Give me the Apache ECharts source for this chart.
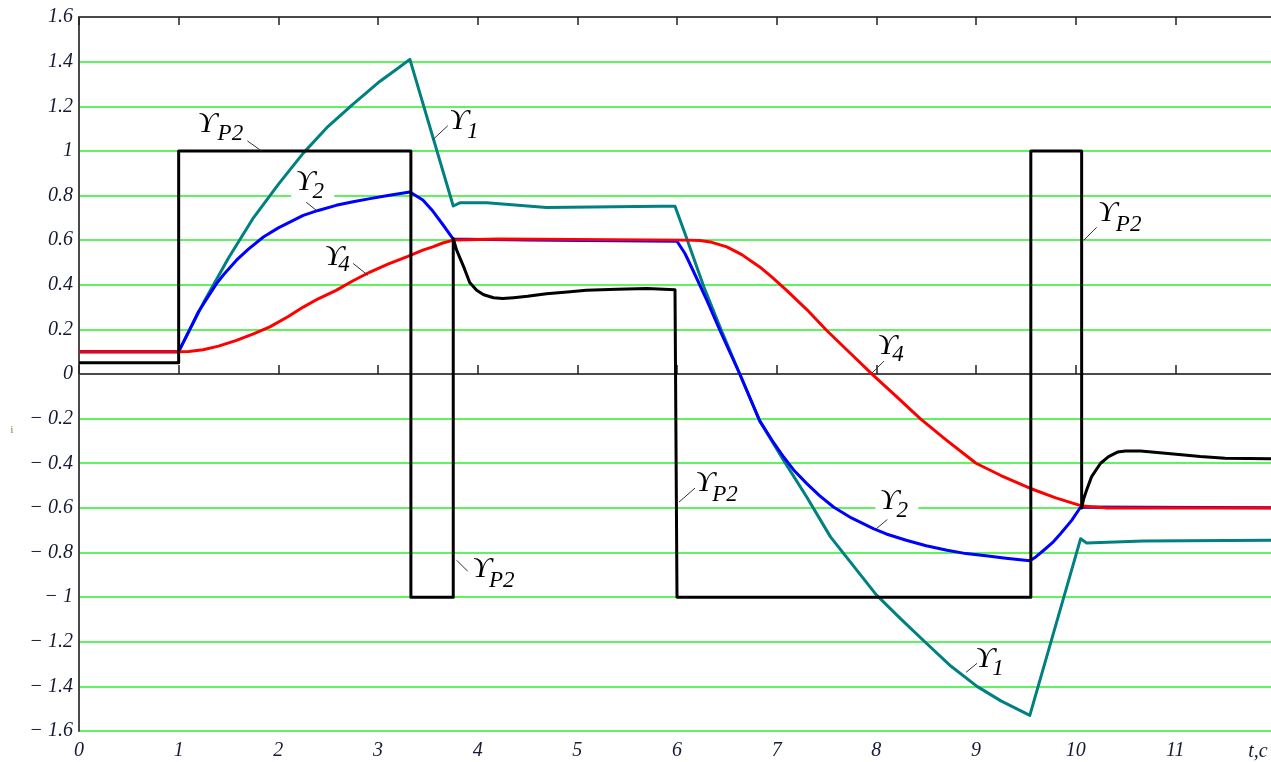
<!DOCTYPE html>
<html>
<head>
<meta charset="utf-8">
<script src="https://cdn.jsdelivr.net/npm/echarts@6/dist/echarts.min.js"></script>
<style>
  html, body { margin: 0; padding: 0; background: #fff; }
  #chart { width: 1271px; height: 762px; }
</style>
</head>
<body>
<div id="chart"></div>
<script>
// t (s), value pairs
var gammaP2 = [
  [0, 0.05], [1, 0.05], [1, 1], [3.33, 1], [3.33, -1], [3.755, -1], [3.755, 0.607],
  [3.79, 0.554], [3.86, 0.48], [3.92, 0.41], [3.99, 0.375], [4.06, 0.355], [4.16, 0.342],
  [4.25, 0.338], [4.36, 0.342], [4.5, 0.348], [4.69, 0.36], [4.9, 0.368], [5.09, 0.375],
  [5.4, 0.38], [5.7, 0.383], [5.98, 0.378], [6.0, 0.378], [6.0, -1],
  [9.55, -1], [9.55, 1], [10.06, 1], [10.06, -0.6], [10.08, -0.56], [10.11, -0.52],
  [10.16, -0.46], [10.25, -0.4], [10.33, -0.37], [10.42, -0.35], [10.5, -0.345],
  [10.65, -0.345], [10.9, -0.355], [11.25, -0.37], [11.5, -0.378], [12, -0.38]
];
var gamma1 = [
  [0, 0.1], [1, 0.1], [1.25, 0.32], [1.5, 0.52], [1.75, 0.7], [2.0, 0.85], [2.25, 0.99],
  [2.5, 1.11], [2.75, 1.21], [3.0, 1.305], [3.2, 1.37], [3.32, 1.41], [3.755, 0.753],
  [3.82, 0.767], [4.09, 0.767], [4.69, 0.746], [5.83, 0.752], [5.98, 0.752], [6.08, 0.63],
  [6.27, 0.39], [6.45, 0.19], [6.63, 0.0], [6.83, -0.21], [7.07, -0.387], [7.3, -0.55],
  [7.54, -0.73], [7.77, -0.86], [8.0, -0.99], [8.25, -1.1], [8.51, -1.21], [8.75, -1.31],
  [9.01, -1.4], [9.25, -1.465], [9.54, -1.53], [10.05, -0.738], [10.11, -0.757],
  [10.68, -0.749], [12, -0.745]
];
var gamma2 = [
  [0, 0.1], [1, 0.1], [1.1, 0.19], [1.2, 0.28], [1.3, 0.35], [1.38, 0.405], [1.45, 0.445],
  [1.58, 0.51], [1.7, 0.56], [1.85, 0.614], [2.0, 0.655], [2.25, 0.711], [2.4, 0.733],
  [2.58, 0.756], [2.75, 0.772], [2.92, 0.786], [3.1, 0.8], [3.32, 0.816], [3.45, 0.78],
  [3.55, 0.73], [3.65, 0.67], [3.755, 0.605], [4.5, 0.6], [6.0, 0.595], [6.08, 0.54],
  [6.16, 0.465], [6.3, 0.33], [6.43, 0.196], [6.63, 0.0], [6.83, -0.21], [6.95, -0.295],
  [7.07, -0.372], [7.18, -0.435], [7.3, -0.49], [7.43, -0.545], [7.57, -0.596],
  [7.75, -0.645], [7.97, -0.693], [8.1, -0.717], [8.3, -0.745], [8.5, -0.77],
  [8.71, -0.79], [8.9, -0.805], [9.1, -0.815], [9.3, -0.826], [9.54, -0.837],
  [9.6, -0.82], [9.68, -0.79], [9.77, -0.755], [9.85, -0.715], [9.96, -0.656],
  [10.05, -0.596], [12, -0.6]
];
var gamma4 = [
  [0, 0.1], [1, 0.1], [1.1, 0.101], [1.245, 0.109], [1.4, 0.125], [1.58, 0.151],
  [1.75, 0.18], [1.915, 0.211], [2.1, 0.258], [2.25, 0.3], [2.4, 0.337], [2.58, 0.375],
  [2.75, 0.418], [2.92, 0.457], [3.1, 0.492], [3.3, 0.527], [3.45, 0.555], [3.55, 0.57],
  [3.65, 0.587], [3.755, 0.6], [3.9, 0.602], [4.2, 0.605], [6.1, 0.6], [6.23, 0.598],
  [6.35, 0.59], [6.5, 0.57], [6.65, 0.535], [6.83, 0.48], [6.95, 0.435], [7.1, 0.375],
  [7.3, 0.29], [7.5, 0.196], [7.7, 0.11], [7.97, -0.006], [8.2, -0.1], [8.44, -0.2],
  [8.7, -0.295], [9.0, -0.4], [9.25, -0.455], [9.54, -0.512], [9.8, -0.555],
  [10.05, -0.59], [10.15, -0.595], [10.3, -0.6], [12, -0.6]
];

// curve tags: anchor on the curve (data), then pixel offsets of leader end, glyph, subscript
var tags = [
  { at: [1.83, 1.0], sub: 'P2', lead: [-14, -10], main: [-54, -27], so: [-31, -17] },
  { at: [3.55, 1.05], sub: '1', lead: [15, -14], main: [26, -19], so: [40, -8] },
  { at: [2.38, 0.734], sub: '2', lead: [-10, -8], main: [-11, -28], so: [2, -18], bg: true },
  { at: [2.9, 0.442], sub: '4', lead: [-15, -12], main: [-34, -18], so: [-24, -10] },
  { at: [3.79, -0.835], sub: 'P2', lead: [11, 11], main: [25, 9], so: [45, 21] },
  { at: [6.02, -0.574], sub: 'P2', lead: [16, -14], main: [26, -19], so: [46, -7] },
  { at: [7.956, 0.004], sub: '4', lead: [12, -12], main: [15, -27], so: [26, -18] },
  { at: [7.99, -0.697], sub: '2', lead: [12, -10], main: [14, -28], so: [27, -19], bg: true },
  { at: [8.9, -1.337], sub: '1', lead: [11, -9], main: [19, -13], so: [32, -3] },
  { at: [10.08, 0.599], sub: 'P2', lead: [13, -13], main: [24, -27], so: [45, -15] }
];

var serif = "'Liberation Serif', 'DejaVu Serif', serif";
var labelColor = '#151a35';

function yLabel(v) {
  if (Math.abs(v) < 1e-9) return '0';
  var s = Math.abs(v).toFixed(1).replace(/\.0$/, '');
  return v < 0 ? '\u2212 ' + s : s;
}

function lineSeries(name, data, color) {
  return {
    name: name, type: 'line', data: data, xAxisIndex: 0, yAxisIndex: 0,
    showSymbol: false, symbol: 'none', animation: false,
    lineStyle: { color: color, width: 3, join: 'round' }
  };
}

var chart = echarts.init(document.getElementById('chart'));
chart.setOption({
  animation: false,
  backgroundColor: '#fff',
  grid: { left: 79, right: -4, top: 17, bottom: 31, outerBoundsMode: 'none', containLabel: false },
  xAxis: [
    {
      type: 'value', min: 0, max: 12, interval: 1, position: 'bottom',
      axisLine: { lineStyle: { color: '#4a4a4a', width: 2 } },
      axisTick: { inside: true, length: 9, lineStyle: { color: '#222', width: 1.5 } },
      axisLabel: {
        margin: 10, color: labelColor, fontFamily: serif, fontStyle: 'italic', fontSize: 20,
        formatter: function (v) { return v >= 12 ? '' : String(v); }
      },
      splitLine: { show: false }
    },
    {
      type: 'value', min: 0, max: 12, interval: 1, position: 'top',
      axisLine: { lineStyle: { color: '#4a4a4a', width: 2 } },
      axisTick: { inside: true, length: 8, lineStyle: { color: '#222', width: 1.5 } },
      axisLabel: { show: false },
      splitLine: { show: false }
    }
  ],
  yAxis: {
    type: 'value', min: -1.6, max: 1.6, interval: 0.2,
    axisLine: { show: true, lineStyle: { color: '#4a4a4a', width: 2 } },
    axisTick: { show: false },
    axisLabel: {
      margin: 6, color: labelColor, fontFamily: serif, fontStyle: 'italic', fontSize: 20,
      formatter: yLabel
    },
    splitLine: { show: true, lineStyle: { color: '#2af02a', width: 1.5 } }
  },
  series: [
    lineSeries('Y1', gamma1, '#008080'),
    lineSeries('Y2', gamma2, '#0000ff'),
    lineSeries('Y4', gamma4, '#ff0000'),
    lineSeries('YP2', gammaP2, '#000000')
  ]
});

var els = [];
tags.forEach(function (g) {
  var p = chart.convertToPixel({ seriesIndex: 0 }, g.at);
  var mx = p[0] + g.main[0], my = p[1] + g.main[1];
  var sx = p[0] + g.so[0], sy = p[1] + g.so[1];
  if (g.bg) {
    els.push({
      type: 'rect', z: 100,
      shape: { x: mx - 14, y: my - 12, width: (sx - mx) + 30, height: (sy - my) + 22 },
      style: { fill: '#fff' }
    });
  }
  els.push({
    type: 'line', z: 101,
    shape: { x1: p[0], y1: p[1], x2: p[0] + g.lead[0], y2: p[1] + g.lead[1] },
    style: { stroke: '#333', lineWidth: 1 }
  });
  els.push({
    type: 'text', z: 102, x: mx, y: my,
    style: {
      text: '\u03D2', fill: '#000', font: 'italic 30px ' + serif,
      align: 'center', verticalAlign: 'middle', textAlign: 'center', textVerticalAlign: 'middle'
    }
  });
  els.push({
    type: 'text', z: 102, x: sx, y: sy,
    style: {
      text: g.sub, fill: '#000', font: 'italic 23px ' + serif,
      align: 'center', verticalAlign: 'middle', textAlign: 'center', textVerticalAlign: 'middle'
    }
  });
});
els.push({
  type: 'text', z: 102, x: 1258, y: 752,
  style: {
    text: 't,c', fill: labelColor, font: 'italic 20px ' + serif,
    align: 'center', verticalAlign: 'middle', textAlign: 'center', textVerticalAlign: 'middle'
  }
});
els.push({
  type: 'text', z: 102, x: 12, y: 430,
  style: {
    text: 'i', fill: '#8a6a3a', font: '10px ' + serif,
    align: 'center', verticalAlign: 'middle', textAlign: 'center', textVerticalAlign: 'middle'
  }
});
chart.setOption({ graphic: { elements: els } });
</script>
</body>
</html>
